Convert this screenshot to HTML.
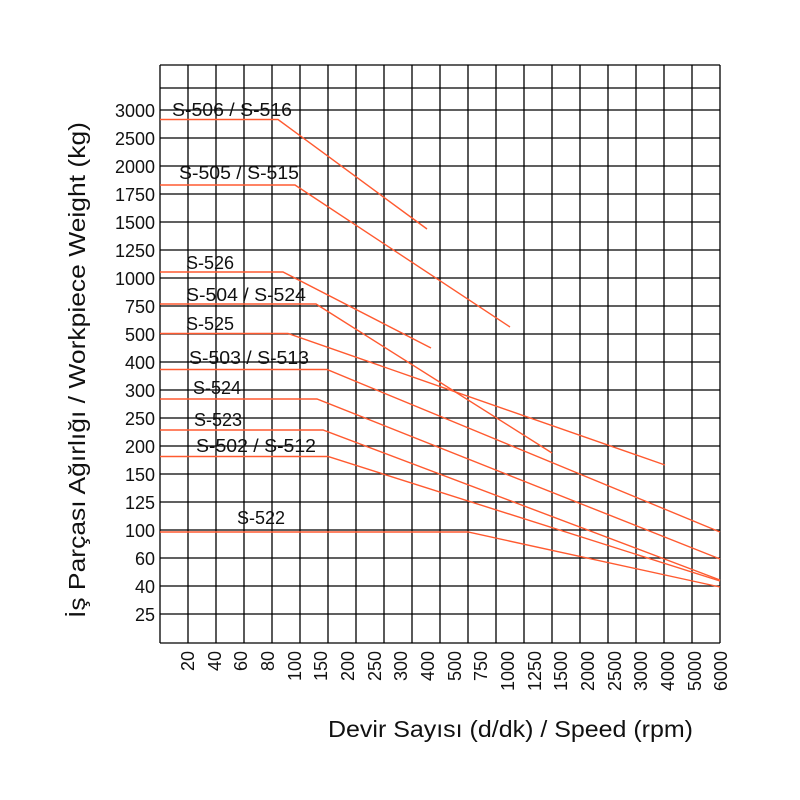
<!DOCTYPE html>
<html><head><meta charset="utf-8"><style>html,body{margin:0;padding:0;background:#fff}svg{display:block}</style></head><body>
<svg width="800" height="800" viewBox="0 0 800 800" xmlns="http://www.w3.org/2000/svg" font-family="Liberation Sans, Arial, sans-serif">
<rect width="800" height="800" fill="#fff"/>
<g stroke="#000" stroke-width="1.3" fill="none">
<line x1="160" y1="65" x2="720" y2="65"/>
<line x1="160" y1="88" x2="720" y2="88"/>
<line x1="160" y1="110" x2="720" y2="110"/><line x1="160" y1="138" x2="720" y2="138"/><line x1="160" y1="166" x2="720" y2="166"/><line x1="160" y1="194" x2="720" y2="194"/><line x1="160" y1="222" x2="720" y2="222"/><line x1="160" y1="250" x2="720" y2="250"/><line x1="160" y1="278" x2="720" y2="278"/><line x1="160" y1="306" x2="720" y2="306"/><line x1="160" y1="334" x2="720" y2="334"/><line x1="160" y1="362" x2="720" y2="362"/><line x1="160" y1="390" x2="720" y2="390"/><line x1="160" y1="418" x2="720" y2="418"/><line x1="160" y1="446" x2="720" y2="446"/><line x1="160" y1="474" x2="720" y2="474"/><line x1="160" y1="502" x2="720" y2="502"/><line x1="160" y1="530" x2="720" y2="530"/><line x1="160" y1="558" x2="720" y2="558"/><line x1="160" y1="586" x2="720" y2="586"/><line x1="160" y1="614" x2="720" y2="614"/><line x1="160" y1="643" x2="720" y2="643"/>
<line x1="160" y1="65" x2="160" y2="643"/><line x1="188" y1="65" x2="188" y2="643"/><line x1="216" y1="65" x2="216" y2="643"/><line x1="244" y1="65" x2="244" y2="643"/><line x1="272" y1="65" x2="272" y2="643"/><line x1="300" y1="65" x2="300" y2="643"/><line x1="328" y1="65" x2="328" y2="643"/><line x1="356" y1="65" x2="356" y2="643"/><line x1="384" y1="65" x2="384" y2="643"/><line x1="412" y1="65" x2="412" y2="643"/><line x1="440" y1="65" x2="440" y2="643"/><line x1="468" y1="65" x2="468" y2="643"/><line x1="496" y1="65" x2="496" y2="643"/><line x1="524" y1="65" x2="524" y2="643"/><line x1="552" y1="65" x2="552" y2="643"/><line x1="580" y1="65" x2="580" y2="643"/><line x1="608" y1="65" x2="608" y2="643"/><line x1="636" y1="65" x2="636" y2="643"/><line x1="664" y1="65" x2="664" y2="643"/><line x1="692" y1="65" x2="692" y2="643"/><line x1="720" y1="65" x2="720" y2="643"/>
</g>
<g stroke="#ff5a30" stroke-width="1.4" fill="none">
<polyline points="160,119.5 278,119.5 427,229"/>
<polyline points="160,185 295,185 510,327"/>
<polyline points="160,272 283,272 431,348"/>
<polyline points="160,304 316,304 552,453"/>
<polyline points="160,333.5 288,333.5 665,465"/>
<polyline points="160,369.5 327,369.5 720,532"/>
<polyline points="160,399 317,399 720,559"/>
<polyline points="160,430 323,430 720,580"/>
<polyline points="160,456.5 328,456.5 720,581"/>
<polyline points="160,532 468,532 720,587"/>
</g>
<g font-size="18" fill="#111">
<text x="172" y="116" textLength="120" lengthAdjust="spacingAndGlyphs">S-506 / S-516</text>
<text x="179" y="179" textLength="120" lengthAdjust="spacingAndGlyphs">S-505 / S-515</text>
<text x="186" y="269">S-526</text>
<text x="186" y="301" textLength="120" lengthAdjust="spacingAndGlyphs">S-504 / S-524</text>
<text x="186" y="330">S-525</text>
<text x="189" y="364" textLength="120" lengthAdjust="spacingAndGlyphs">S-503 / S-513</text>
<text x="193" y="394">S-524</text>
<text x="194" y="426">S-523</text>
<text x="196" y="452" textLength="120" lengthAdjust="spacingAndGlyphs">S-502 / S-512</text>
<text x="237" y="524">S-522</text>
</g>
<g font-size="18" fill="#111" text-anchor="end">
<text x="155" y="117">3000</text><text x="155" y="145">2500</text><text x="155" y="173">2000</text><text x="155" y="201">1750</text><text x="155" y="229">1500</text><text x="155" y="257">1250</text><text x="155" y="285">1000</text><text x="155" y="313">750</text><text x="155" y="341">500</text><text x="155" y="369">400</text><text x="155" y="397">300</text><text x="155" y="425">250</text><text x="155" y="453">200</text><text x="155" y="481">150</text><text x="155" y="509">125</text><text x="155" y="537">100</text><text x="155" y="565">60</text><text x="155" y="593">40</text><text x="155" y="621">25</text>
</g>
<g font-size="18" fill="#111" text-anchor="end">
<text transform="translate(194,651) rotate(-90)">20</text>
<text transform="translate(221,651) rotate(-90)">40</text>
<text transform="translate(247,651) rotate(-90)">60</text>
<text transform="translate(274,651) rotate(-90)">80</text>
<text transform="translate(301,651) rotate(-90)">100</text>
<text transform="translate(327,651) rotate(-90)">150</text>
<text transform="translate(354,651) rotate(-90)">200</text>
<text transform="translate(381,651) rotate(-90)">250</text>
<text transform="translate(407,651) rotate(-90)">300</text>
<text transform="translate(434,651) rotate(-90)">400</text>
<text transform="translate(461,651) rotate(-90)">500</text>
<text transform="translate(487,651) rotate(-90)">750</text>
<text transform="translate(514,651) rotate(-90)">1000</text>
<text transform="translate(541,651) rotate(-90)">1250</text>
<text transform="translate(567,651) rotate(-90)">1500</text>
<text transform="translate(594,651) rotate(-90)">2000</text>
<text transform="translate(621,651) rotate(-90)">2500</text>
<text transform="translate(647,651) rotate(-90)">3000</text>
<text transform="translate(674,651) rotate(-90)">4000</text>
<text transform="translate(701,651) rotate(-90)">5000</text>
<text transform="translate(727,651) rotate(-90)">6000</text>
</g>
<text transform="translate(85,618) rotate(-90)" font-size="23" fill="#111" textLength="496" lengthAdjust="spacingAndGlyphs">İş Parçası Ağırlığı / Workpiece Weight   (kg)</text>
<text x="328" y="737" font-size="23" fill="#111" textLength="365" lengthAdjust="spacingAndGlyphs">Devir Sayısı (d/dk) / Speed (rpm)</text>
</svg>
</body></html>
